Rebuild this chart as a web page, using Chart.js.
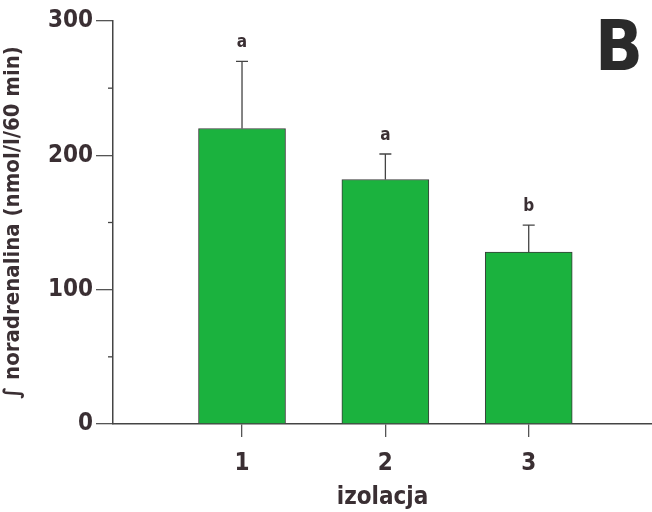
<!DOCTYPE html>
<html>
<head>
<meta charset="utf-8">
<script src="https://cdn.jsdelivr.net/npm/chart.js@4"></script>
<style>
  html, body { margin: 0; padding: 0; background: #fff; }
  #wrap { width: 652px; height: 512px; position: relative; }
</style>
</head>
<body>
<div id="wrap"><canvas id="chart"></canvas></div>
<script>
// dane
const categories = [1, 2, 3];
const values = [220, 182, 128];
const errorTops = [270, 201, 148];
const letters = ['a', 'a', 'b'];
const yTicks = [0, 100, 200, 300];
const yMinorTicks = [50, 150, 250];

const FONT = "'Liberation Sans Narrow', 'DejaVu Sans Condensed', 'Roboto Condensed', sans-serif";
const INK = '#3a2f33';

// wąsy błędów, litery i minor ticki
const extrasPlugin = {
    id: 'extras',
    afterDatasetsDraw(chart) {
        const ctx = chart.ctx;
        const x = chart.scales.x;
        const y = chart.scales.y;
        ctx.save();
        ctx.strokeStyle = '#444';
        ctx.lineWidth = 1.3;
        categories.forEach((c, i) => {
            const px = x.getPixelForValue(c);
            const top = y.getPixelForValue(errorTops[i]);
            const base = y.getPixelForValue(values[i]);
            ctx.beginPath();
            ctx.moveTo(px, base);
            ctx.lineTo(px, top);
            ctx.moveTo(px - 6, top);
            ctx.lineTo(px + 6, top);
            ctx.stroke();
            ctx.fillStyle = INK;
            ctx.font = 'bold 17px ' + FONT;
            ctx.textAlign = 'center';
            ctx.textBaseline = 'alphabetic';
            ctx.fillText(letters[i], px, top - 14);
        });
        // krótkie kreski pośrednie na osi Y
        yMinorTicks.forEach(v => {
            const py = y.getPixelForValue(v);
            ctx.beginPath();
            ctx.moveTo(y.right - 5, py);
            ctx.lineTo(y.right, py);
            ctx.stroke();
        });
        // litera panelu
        ctx.fillStyle = '#2a2a2a';
        ctx.font = 'bold 70px ' + FONT;
        ctx.textAlign = 'center';
        ctx.textBaseline = 'alphabetic';
        ctx.fillText('B', 619, 70);
        ctx.restore();
    }
};

new Chart(document.getElementById('chart'), {
    type: 'bar',
    data: {
        datasets: [{
            data: categories.map((c, i) => ({ x: c, y: values[i] })),
            backgroundColor: '#1bb23e',
            borderColor: '#3b3b3b',
            borderWidth: 1,
            barThickness: 87
        }]
    },
    options: {
        responsive: true,
        maintainAspectRatio: false,
        animation: false,
        layout: { padding: { top: 21, right: 0, left: 0, bottom: 0 } },
        plugins: {
            legend: { display: false },
            tooltip: { enabled: false }
        },
        scales: {
            x: {
                type: 'linear',
                min: 0.1,
                max: 3.86,
                offset: false,
                afterBuildTicks: s => { s.ticks = categories.map(v => ({ value: v })); },
                afterFit: s => { s.height = 88; },
                grid: { drawOnChartArea: false, offset: false, tickLength: 13, color: '#555', lineWidth: 1.3 },
                border: { color: '#444', width: 1.5 },
                ticks: { color: INK, font: { family: FONT, size: 24, weight: 'bold' }, padding: 12 },
                title: {
                    display: true,
                    text: 'izolacja',
                    color: INK,
                    font: { family: FONT, size: 24, weight: 'bold' },
                    padding: { top: 0, bottom: 0 }
                }
            },
            y: {
                min: 0,
                max: 300,
                afterBuildTicks: s => { s.ticks = yTicks.map(v => ({ value: v })); },
                afterFit: s => { s.width = 113; },
                grid: { drawOnChartArea: false, tickLength: 17, color: '#555', lineWidth: 1.3 },
                border: { color: '#444', width: 1.5 },
                ticks: { color: INK, font: { family: FONT, size: 24, weight: 'bold' }, padding: 3 },
                title: {
                    display: true,
                    text: '\u222B noradrenalina (nmol/l/60 min)',
                    color: INK,
                    font: { family: FONT, size: 22, weight: 'bold' },
                    padding: { top: 0, bottom: 0 }
                }
            }
        }
    },
    plugins: [extrasPlugin]
});
</script>
</body>
</html>
